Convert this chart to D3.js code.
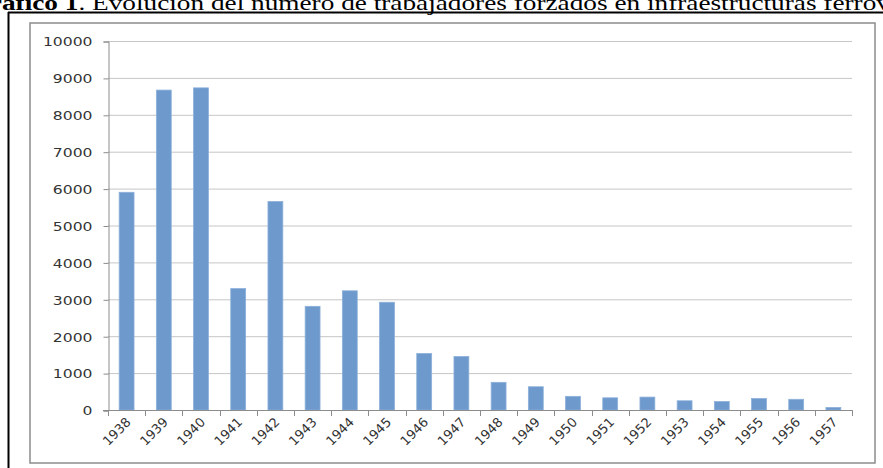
<!DOCTYPE html>
<html>
<head>
<meta charset="utf-8">
<script src="https://cdn.jsdelivr.net/npm/d3@7"></script>
<style>
  body { margin: 0; background: #fff; }
  svg { display: block; }
</style>
</head>
<body>
<svg></svg>
<script>
var svgWidth = 883;
var svgHeight = 468;

// data
var years = ["1938","1939","1940","1941","1942","1943","1944","1945","1946","1947",
             "1948","1949","1950","1951","1952","1953","1954","1955","1956","1957"];
var workers = [5900, 8670, 8730, 3290, 5650, 2810, 3230, 2920, 1530, 1450,
               750, 630, 370, 330, 350, 250, 230, 310, 290, 70];
var yTicks = [0,1000,2000,3000,4000,5000,6000,7000,8000,9000,10000];
var titleText = "Gráfico 1";
var titleRest = ". Evolución del número de trabajadores forzados en infraestructuras ferroviarias";

var plot = { left: 108, right: 852, top: 41, bottom: 410 };

var svg = d3.select("svg")
    .attr("width", svgWidth)
    .attr("height", svgHeight);

// title (cut at the top like the page it came from)
var sx = 1.24;
var title = svg.append("text")
    .attr("font-family", "'Liberation Serif', 'Times New Roman', serif")
    .attr("font-size", 22)
    .attr("fill", "#000")
    .attr("y", 9.5);
title.append("tspan").attr("font-weight", "bold").text(titleText);
title.append("tspan").text(titleRest);
var grLen = title.node().getSubStringLength(0, 2);
title.attr("transform", "scale(" + sx + ",1)")
    .attr("x", 2 / sx - grLen);

// page borders
svg.append("line").attr("x1", 8).attr("x2", svgWidth).attr("y1", 12.5).attr("y2", 12.5)
    .attr("stroke", "#000").attr("stroke-width", 2);
svg.append("line").attr("x1", 8.5).attr("x2", 8.5).attr("y1", 12).attr("y2", svgHeight)
    .attr("stroke", "#000").attr("stroke-width", 2);

// chart frame
svg.append("rect")
    .attr("x", 30).attr("y", 23).attr("width", 845).attr("height", 440)
    .attr("fill", "#fff").attr("stroke", "#8c8c8c").attr("stroke-width", 1.5);

var x = d3.scaleBand()
    .domain(years)
    .range([plot.left, plot.right])
    .paddingInner(0.6)
    .paddingOuter(0.3);

var y = d3.scaleLinear()
    .domain([0, 10000])
    .range([plot.bottom, plot.top]);

// grid lines
svg.append("g")
    .selectAll("line")
    .data(yTicks.slice(1))
    .enter()
    .append("line")
    .attr("x1", plot.left)
    .attr("x2", plot.right)
    .attr("y1", function(d) { return y(d) + 0.5; })
    .attr("y2", function(d) { return y(d) + 0.5; })
    .attr("stroke", "#c6c6c6")
    .attr("stroke-width", 1);

// y axis
var yAxis = svg.append("g")
    .attr("transform", "translate(" + (plot.left + 0.5) + ",0.5)")
    .call(d3.axisLeft(y).tickValues(yTicks).tickSize(5).tickPadding(11).tickFormat(d3.format("d")));
yAxis.select(".domain").attr("stroke", "#8c8c8c");
yAxis.selectAll(".tick line").attr("stroke", "#8c8c8c");
yAxis.selectAll(".tick text")
    .attr("font-family", "'DejaVu Sans', Verdana, sans-serif")
    .attr("font-size", 12)
    .attr("fill", "#333")
    .attr("dy", "0.36em")
    .attr("x", null)
    .attr("transform", "translate(-16,0) scale(1.3,1)");

// bars
var step = x.step();
svg.append("g")
    .selectAll("rect")
    .data(workers)
    .enter()
    .append("rect")
    .attr("x", function(d, i) { return x(years[i]); })
    .attr("y", function(d) { return y(d); })
    .attr("width", x.bandwidth())
    .attr("height", function(d) { return y(0) - y(d); })
    .attr("fill", "#6d99cd")
    .attr("stroke", "#8db0da")
    .attr("stroke-width", 0.8);

// x axis line and ticks between categories
svg.append("line")
    .attr("x1", plot.left - 5).attr("x2", plot.right)
    .attr("y1", plot.bottom + 0.5).attr("y2", plot.bottom + 0.5)
    .attr("stroke", "#8c8c8c");
var edges = years.map(function(d) { return x(d) - step * 0.3; });
edges.push(plot.right);
svg.append("g")
    .selectAll("line")
    .data(edges)
    .enter()
    .append("line")
    .attr("x1", function(d) { return Math.round(d) + 0.5; })
    .attr("x2", function(d) { return Math.round(d) + 0.5; })
    .attr("y1", plot.bottom)
    .attr("y2", plot.bottom + 6)
    .attr("stroke", "#8c8c8c");

// x labels
svg.append("g")
    .selectAll("text")
    .data(years)
    .enter()
    .append("text")
    .attr("font-family", "'DejaVu Sans', Verdana, sans-serif")
    .attr("font-size", 13)
    .attr("fill", "#333")
    .attr("text-anchor", "end")
    .attr("transform", function(d) {
        return "translate(" + (x(d) + x.bandwidth() / 2 + 5) + "," + (plot.bottom + 13) + ") rotate(-45)";
    })
    .text(function(d) { return d; });
</script>
</body>
</html>
